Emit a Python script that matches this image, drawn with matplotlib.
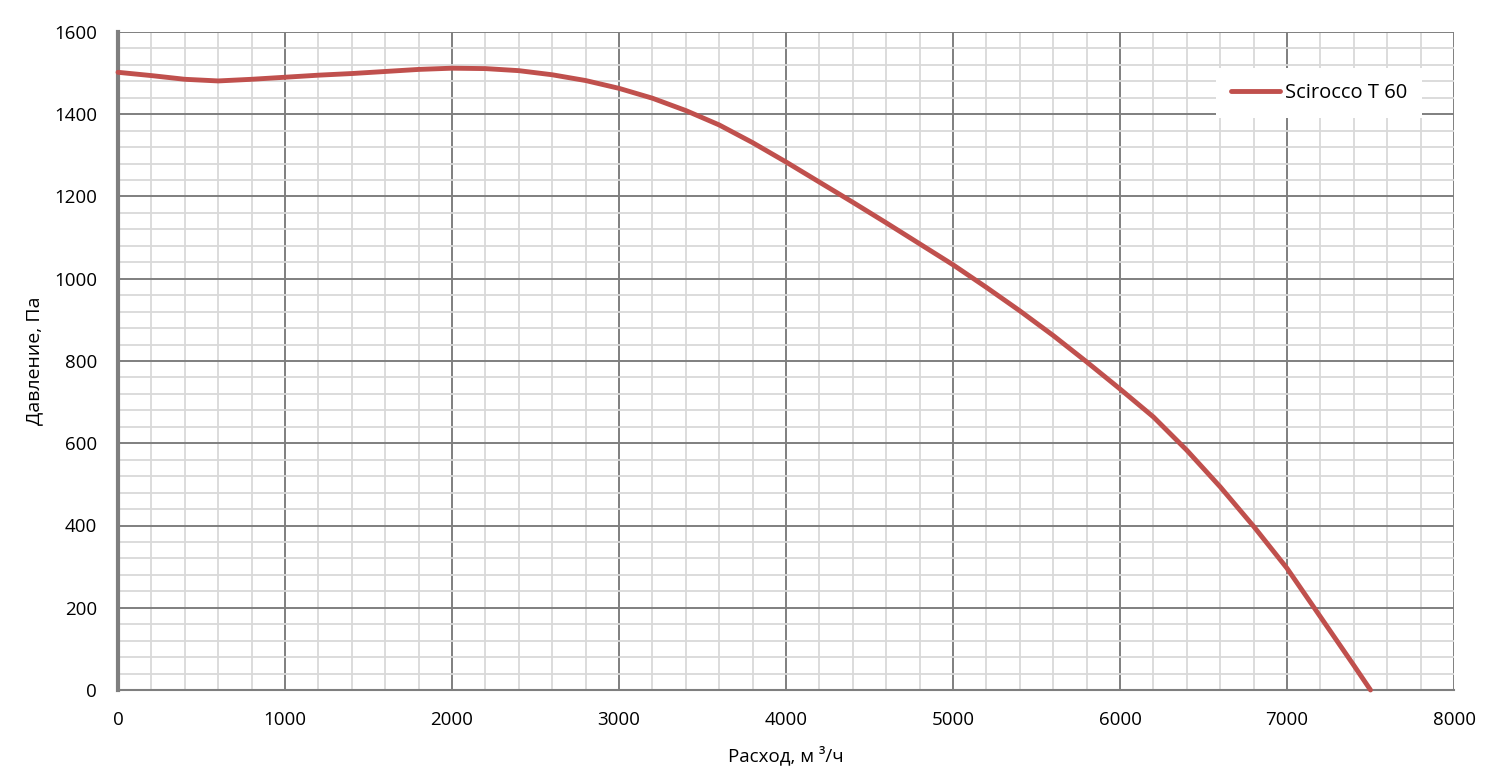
import matplotlib
matplotlib.use("Agg")
import matplotlib.pyplot as plt
from matplotlib.ticker import MultipleLocator

plt.rcParams['font.family'] = ['Open Sans', 'DejaVu Sans']

flow = [0, 200, 400, 600, 800, 1000, 1200, 1400, 1600, 1800, 2000, 2200, 2400,
        2600, 2800, 3000, 3200, 3400, 3600, 3800, 4000, 4200, 4400, 4600, 4800,
        5000, 5200, 5400, 5600, 5800, 6000, 6200, 6400, 6600, 6800, 7000, 7200,
        7400, 7500]
pressure = [1502, 1494, 1485, 1481, 1485, 1490, 1495, 1499, 1504, 1509, 1512, 1511, 1506,
            1496, 1482, 1463, 1439, 1409, 1374, 1331, 1284, 1235, 1186, 1136, 1085,
            1034, 979, 922, 862, 798, 732, 664, 583, 494, 398, 296, 178,
            60, 0]
series_name = "Scirocco T 60"

fig = plt.figure(figsize=(15, 7.81), dpi=100)
ax = fig.add_axes([118/1500, 1-690/781, (1454-118)/1500, (690-32)/781])

ax.set_xlim(0, 8000)
ax.set_ylim(0, 1600)
ax.xaxis.set_major_locator(MultipleLocator(1000))
ax.xaxis.set_minor_locator(MultipleLocator(200))
ax.yaxis.set_major_locator(MultipleLocator(200))
ax.yaxis.set_minor_locator(MultipleLocator(40))

ax.grid(which='minor', color='#d9d9d9', linewidth=1.3)
ax.grid(which='major', color='#7f7f7f', linewidth=1.4)
ax.set_axisbelow(True)

ax.plot(flow, pressure, color='#c0504d', linewidth=3.5, solid_joinstyle='round',
        solid_capstyle='round', label=series_name, zorder=3, clip_on=False)

for s in ['top', 'right']:
    ax.spines[s].set_visible(False)
ax.spines['left'].set_color('#7f7f7f')
ax.spines['left'].set_linewidth(3)
ax.spines['bottom'].set_color('#7f7f7f')
ax.spines['bottom'].set_linewidth(1.5)

ax.tick_params(which='both', length=0, labelsize=13.5, colors='black')
ax.tick_params(axis='x', pad=15)
ax.tick_params(axis='y', pad=15)

ax.set_xlabel("Расход, м ³/ч", fontsize=13.5, labelpad=12)
ax.set_ylabel("Давление, Па", fontsize=14, labelpad=8)

leg = ax.legend(loc='upper right', bbox_to_anchor=(0.976, 0.946), borderaxespad=0,
                fontsize=14.5, frameon=True, fancybox=False, edgecolor='white',
                framealpha=1, handlelength=2.4, handletextpad=0.25, borderpad=0.75)
leg.get_frame().set_linewidth(0)

fig.savefig("out.png", dpi=100)
